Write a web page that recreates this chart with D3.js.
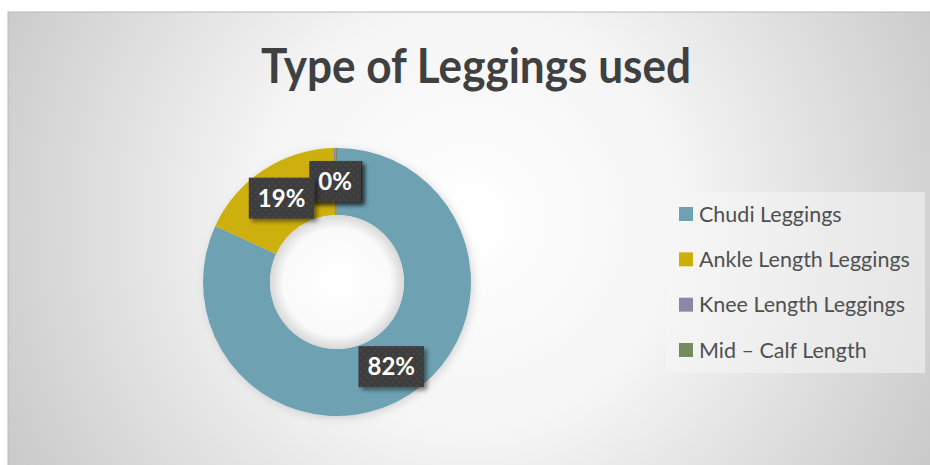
<!DOCTYPE html>
<html lang="en">
  <head>
    <meta charset="utf-8" />
    <title>Type of Leggings used</title>
    <script src="https://cdnjs.cloudflare.com/ajax/libs/d3/7.8.5/d3.min.js"></script>
    <style type="text/css">
      body {
        margin: 0;
        background: #fff;
      }

      .title {
        font-family: Lato, sans-serif;
        font-weight: 700;
        font-size: 48px;
        fill: #404040;
      }

      .legendText {
        font-family: Lato, sans-serif;
        font-size: 21.5px;
        fill: #505050;
      }

      .dataLabel {
        font-family: Lato, sans-serif;
        font-weight: 700;
        font-size: 24px;
        fill: #fff;
      }
    </style>
  </head>

  <body>
    <script>
      const width = 930;
      const height = 465;

      // Slices in drawing order, clockwise from 12 o'clock.
      const categories = ["Chudi Leggings", "Ankle Length Leggings", "Knee Length Leggings", "Mid – Calf Length"];
      const shares = [81.85, 17.7, 0.3, 0.15];
      const labelText = ["82%", "19%", "0%", "0%"];
      const colors = ["#6ea2b2", "#cdb007", "#8c87a6", "#778a5f"];

      const data = categories.map((c, i) => ({ name: c, value: shares[i], label: labelText[i] }));

      const cx = 337;
      const cy = 282;
      const outerR = 134;
      const innerR = 67;

      const svg = d3.select('body').append('svg')
        .attr('width', width)
        .attr('height', height)
        .attr('viewBox', [0, 0, width, height]);

      const defs = svg.append('defs');

      const bg = defs.append('radialGradient')
        .attr('id', 'bg')
        .attr('gradientUnits', 'userSpaceOnUse')
        .attr('cx', 470).attr('cy', 220).attr('r', 560);
      bg.append('stop').attr('offset', '0%').attr('stop-color', '#ffffff');
      bg.append('stop').attr('offset', '38%').attr('stop-color', '#f5f5f5');
      bg.append('stop').attr('offset', '100%').attr('stop-color', '#c4c4c4');

      const hole = defs.append('radialGradient').attr('id', 'hole');
      hole.append('stop').attr('offset', '0%').attr('stop-color', '#ffffff');
      hole.append('stop').attr('offset', '80%').attr('stop-color', '#fafafa');
      hole.append('stop').attr('offset', '100%').attr('stop-color', '#d8d8d8');

      const dots = defs.append('pattern')
        .attr('id', 'dots')
        .attr('width', 7).attr('height', 7)
        .attr('patternUnits', 'userSpaceOnUse');
      dots.append('rect').attr('width', 7).attr('height', 7).attr('fill', '#3d3d3d');
      dots.append('circle').attr('cx', 1.5).attr('cy', 1.5).attr('r', 0.8).attr('fill', '#575757');
      dots.append('circle').attr('cx', 5).attr('cy', 5).attr('r', 0.8).attr('fill', '#575757');

      const shadow = defs.append('filter').attr('id', 'shadow')
        .attr('x', '-20%').attr('y', '-20%').attr('width', '150%').attr('height', '150%');
      shadow.append('feDropShadow')
        .attr('dx', 3).attr('dy', 3).attr('stdDeviation', 2)
        .attr('flood-color', '#000').attr('flood-opacity', 0.45);

      const softShadow = defs.append('filter').attr('id', 'softShadow')
        .attr('x', '-20%').attr('y', '-20%').attr('width', '140%').attr('height', '140%');
      softShadow.append('feDropShadow')
        .attr('dx', 2).attr('dy', 2).attr('stdDeviation', 4)
        .attr('flood-color', '#000').attr('flood-opacity', 0.15);

      // Chart area
      svg.append('rect')
        .attr('x', 8).attr('y', 12)
        .attr('width', width).attr('height', height)
        .attr('fill', 'url(#bg)')
        .attr('stroke', '#b8b8b8')
        .attr('stroke-width', 1);

      // Title
      const title = svg.append('text')
        .attr('class', 'title')
        .attr('x', 476)
        .attr('y', 83)
        .attr('text-anchor', 'middle')
        .text("Type of Leggings used");
      if (title.node().getComputedTextLength() > 430) {
        title.attr('textLength', 430).attr('lengthAdjust', 'spacingAndGlyphs');
      }

      // Donut
      const pie = d3.pie().value(d => d.value).sort(null);
      const arc = d3.arc().innerRadius(innerR).outerRadius(outerR);
      const labelArc = d3.arc().innerRadius((innerR + outerR) / 2).outerRadius((innerR + outerR) / 2);
      const arcs = pie(data);

      const g = svg.append('g').attr('transform', `translate(${cx},${cy})`);

      g.append('g')
        .attr('filter', 'url(#softShadow)')
        .selectAll('path')
        .data(arcs)
        .join('path')
        .attr('d', arc)
        .attr('fill', (d, i) => colors[i]);

      g.append('circle')
        .attr('r', innerR)
        .attr('fill', 'url(#hole)');

      // Data labels
      const labels = g.append('g')
        .selectAll('g')
        .data(arcs.slice().reverse())
        .join('g')
        .attr('transform', d => `translate(${labelArc.centroid(d)})`);

      labels.each(function(d) {
        const lg = d3.select(this);
        const box = lg.append('rect').attr('fill', 'url(#dots)').attr('filter', 'url(#shadow)');
        const t = lg.append('text')
          .attr('class', 'dataLabel')
          .attr('text-anchor', 'middle')
          .attr('dy', '0.36em')
          .text(d.data.label);
        const w = t.node().getComputedTextLength() + 18;
        box.attr('x', -w / 2).attr('y', -20.5).attr('width', w).attr('height', 41);
      });

      // Legend
      const legend = svg.append('g');
      legend.append('rect')
        .attr('x', 666).attr('y', 192)
        .attr('width', 259).attr('height', 181)
        .attr('fill', '#f6f6f6')
        .attr('fill-opacity', 0.55);

      const rowY = d3.scalePoint(categories, [214, 350]);

      const item = legend.selectAll('g.item')
        .data(categories)
        .join('g')
        .attr('class', 'item')
        .attr('transform', d => `translate(679,${rowY(d)})`);

      item.append('rect')
        .attr('x', 0).attr('y', -7)
        .attr('width', 14).attr('height', 14)
        .attr('fill', (d, i) => colors[i]);

      item.append('text')
        .attr('class', 'legendText')
        .attr('x', 20)
        .attr('dy', '0.36em')
        .text(d => d);
    </script>
  </body>
</html>
